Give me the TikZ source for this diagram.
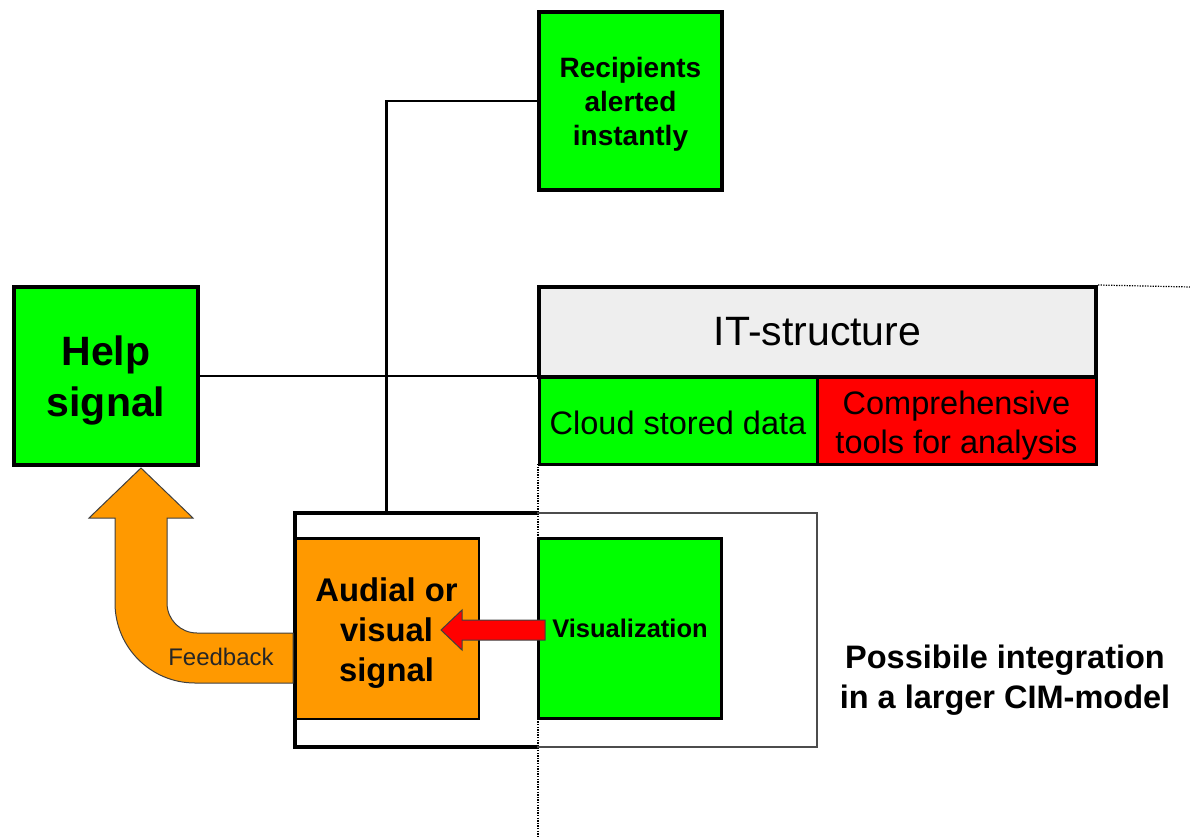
\documentclass[tikz,border=0pt]{standalone}
\usepackage{fontspec}
\setmainfont{Liberation Sans}
\usetikzlibrary{calc}

\definecolor{signalgreen}{HTML}{00FF00}
\definecolor{signalorange}{HTML}{FF9900}
\definecolor{toolred}{HTML}{FF0000}
\definecolor{itgray}{HTML}{EEEEEE}

\newcommand{\boxlines}[2]{\raisebox{#1}[\height][\depth]{\begin{tabular}{@{}c@{}}#2\end{tabular}}}

\begin{document}
\begin{tikzpicture}
[x=1pt,y=-1pt,%
  boxdecorate/.style={shape=rectangle,draw,line width=4pt,inner sep=0pt,align=center},%
  greenbox/.style={boxdecorate,fill=signalgreen},%
  cellbox/.style={boxdecorate,line width=3pt},%
  linedecorate/.style={-,line width=2.5pt},%
  dotdecorate/.style={-,line width=1.2pt,dash pattern=on 1.3pt off 1.3pt},%
  blockarrow/.style={draw=black!75,line width=1pt,line join=miter}]
\useasboundingbox (0,0) rectangle (1190,838);

%% dotted border lines (drawn first, boxes go over them)
\coordinate (dotend) at (1190,287);
\coordinate (dotbottom) at (538,838);
\draw[dotdecorate] (538,464) -- (dotbottom);

%% nodes or boxes
\node (help) at (106,376) [greenbox,minimum width=184,minimum height=178,
  font=\fontsize{41}{51}\selectfont\bfseries] {\boxlines{-5pt}{Help\\signal}};
\node (recip) at (630.5,101) [greenbox,minimum width=183,minimum height=178,
  font=\fontsize{28}{34}\selectfont\bfseries] {\boxlines{-4pt}{Recipients\\alerted\\instantly}};
\node (itbox) at (817.5,332) [boxdecorate,fill=itgray,minimum width=557,minimum height=90,
  font=\fontsize{41}{48}\selectfont] {IT-structure};
\node (cloud) at (678,420.5) [cellbox,fill=signalgreen,minimum width=278,minimum height=87,
  font=\fontsize{32.5}{40}\selectfont] {\boxlines{-6pt}{Cloud stored data}};
\node (tools) at (956.5,420.5) [cellbox,fill=toolred,minimum width=279,minimum height=87,
  font=\fontsize{32.5}{39}\selectfont] {\boxlines{-6pt}{Comprehensive\\tools for analysis}};
\node (frame) at (556,630) [minimum width=522,minimum height=234,inner sep=0pt] {};
\node (orange) at (386.5,628.5) [boxdecorate,line width=2.5pt,fill=signalorange,
  minimum width=184.5,minimum height=180.5,
  font=\fontsize{32.8}{40}\selectfont\bfseries] {\boxlines{-5pt}{Audial or\\visual\\signal}};
\node (vis) at (630,628.5) [greenbox,line width=3pt,minimum width=183,minimum height=180,
  font=\fontsize{25.5}{30}\selectfont\bfseries] {Visualization};
\node (cim) at (1005,680) [align=center,font=\fontsize{32.5}{40}\selectfont\bfseries]
  {Possibile integration\\in a larger CIM-model};

%% frame round the signal boxes: thick half and thin half
\draw[line width=4.5pt] (frame.north -| vis.west) -- (frame.north west)
  -- (frame.south west) -- (frame.south -| vis.west);
\draw[line width=1.5pt,black!70] (frame.north -| vis.west) -- (frame.north east)
  -- (frame.south east) -- (frame.south -| vis.west);
\draw[dotdecorate] (itbox.north east) -- (dotend);

%% edges or lines
\draw[linedecorate] (recip.west) -| (orange |- frame.north);
\draw[linedecorate] (help.east) -- (help.east -| itbox.west);

%% block arrows
\draw[blockarrow,fill=toolred] (545,620) -- (462,620) -- (462,610) -- (441,630)
  -- (462,650) -- (462,640) -- (545,640) -- cycle;
\draw[blockarrow,fill=signalorange] (orange.west |- 0,633) -- (197,633)
  .. controls (180.4,633) and (167,619.6) .. (167,603) -- (167,518)
  -- (193,518) -- (141,468) -- (89,518) -- (115,518) -- (115,603)
  .. controls (115,647.2) and (150.8,683) .. (195,683) -- (orange.west |- 0,683) -- cycle;
\node (fbtext) at (221,657) [text=black!85,font=\fontsize{24}{28}\selectfont] {Feedback};
\end{tikzpicture}
\end{document}
